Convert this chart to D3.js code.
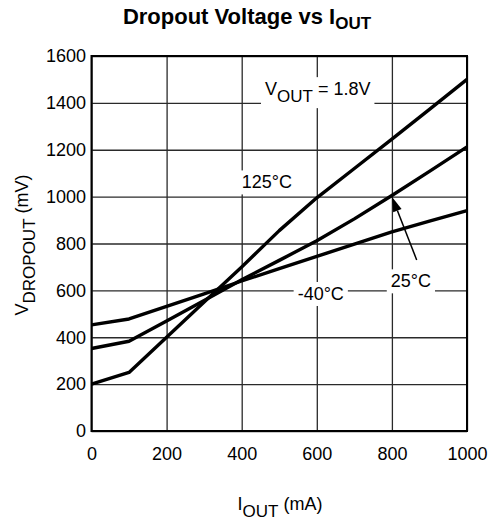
<!DOCTYPE html>
<html>
<head>
<meta charset="utf-8">
<script src="https://cdn.jsdelivr.net/npm/d3@7"></script>
<style>
  html, body { margin: 0; padding: 0; background: #fff; }
  svg { display: block; }
  text { font-family: "Liberation Sans", Arial, Helvetica, sans-serif; fill: #000; }
</style>
</head>
<body>
<svg id="chart" width="492" height="525"></svg>
<script>
// ---- data ----
const currents = [0, 100, 200, 300, 400, 500, 600, 700, 800, 900, 1000]; // mA
const v125 = [200, 250, 400, 550, 700, 855, 995, 1120, 1245, 1372, 1500];  // mV, 125°C
const v25  = [352, 383, 469, 557, 645, 728, 812, 905, 1005, 1108, 1212];   // mV, 25°C
const vm40 = [453, 478, 532, 585, 640, 693, 745, 797, 850, 895, 940];      // mV, -40°C
const xTicks = [0, 200, 400, 600, 800, 1000];
const yTicks = [0, 200, 400, 600, 800, 1000, 1200, 1400, 1600];

const series = [
  { name: "125°C", values: v125 },
  { name: "25°C", values: v25 },
  { name: "-40°C", values: vm40 }
];

// label anchors in data units
const labels = [
  { main: "V", sub: "OUT", rest: " = 1.8V", x: 462, y: 1433 },
  { main: "125°C", x: 400, y: 1035 },
  { main: "-40°C", x: 549, y: 559 },
  { main: "25°C", x: 797, y: 613 }
];
const arrow = { from: [866, 730], to: [800, 1000] };

// ---- layout ----
const svg = d3.select("#chart");
const L = 91.5, R = 467, T = 56, B = 431;
const x = d3.scaleLinear().domain([0, 1000]).range([L, R]);
const y = d3.scaleLinear().domain([0, 1600]).range([B, T]);
const FS = 18;

// grid + x tick labels
const gx = svg.append("g").attr("transform", `translate(0,${B})`)
  .call(d3.axisBottom(x).tickValues(xTicks).tickSize(-(B - T)).tickPadding(16).tickFormat(d3.format("d")));
gx.select(".domain").remove();
gx.selectAll(".tick line").attr("stroke", "#2a2a2a").attr("stroke-width", 1.3);
gx.selectAll(".tick text").attr("font-size", FS).attr("font-family", "Liberation Sans, Arial, sans-serif").attr("fill", "#000");

const gy = svg.append("g").attr("transform", `translate(${L},0)`)
  .call(d3.axisLeft(y).tickValues(yTicks).tickSize(-(R - L)).tickPadding(5.5).tickFormat(d3.format("d")));
gy.select(".domain").remove();
gy.selectAll(".tick line").attr("stroke", "#2a2a2a").attr("stroke-width", 1.3);
gy.selectAll(".tick text").attr("font-size", FS).attr("font-family", "Liberation Sans, Arial, sans-serif").attr("fill", "#000");

// frame
svg.append("rect").attr("x", L).attr("y", T).attr("width", R - L).attr("height", B - T)
  .attr("fill", "none").attr("stroke", "#000").attr("stroke-width", 2);

// curves
const line = d3.line().x((d, i) => x(currents[i])).y(d => y(d));
svg.append("g").selectAll("path").data(series).join("path")
  .attr("d", d => line(d.values))
  .attr("fill", "none").attr("stroke", "#000").attr("stroke-width", 3.4)
  .attr("stroke-linejoin", "round").attr("stroke-linecap", "butt");

// arrow
const ax1 = x(arrow.from[0]), ay1 = y(arrow.from[1]);
const ax2 = x(arrow.to[0]), ay2 = y(arrow.to[1]);
const ang = Math.atan2(ay2 - ay1, ax2 - ax1);
const hl = 15, hw = 4.5;
const bx = ax2 - hl * Math.cos(ang), by = ay2 - hl * Math.sin(ang);
svg.append("line").attr("x1", ax1).attr("y1", ay1).attr("x2", bx).attr("y2", by)
  .attr("stroke", "#000").attr("stroke-width", 1.5);
svg.append("path")
  .attr("d", `M${ax2},${ay2}L${bx + hw * Math.sin(ang)},${by - hw * Math.cos(ang)}L${bx - hw * Math.sin(ang)},${by + hw * Math.cos(ang)}Z`)
  .attr("fill", "#000");

// labels with white background
labels.forEach(lb => {
  const g = svg.append("g");
  const rect = g.append("rect").attr("fill", "#fff");
  const t = g.append("text").attr("x", x(lb.x)).attr("y", y(lb.y)).attr("font-size", FS);
  t.append("tspan").text(lb.main);
  if (lb.sub) {
    t.append("tspan").attr("dy", 7).attr("font-size", 17).text(lb.sub);
    t.append("tspan").attr("dy", -7).text(lb.rest);
  }
  const bb = t.node().getBBox();
  rect.attr("x", bb.x - 4).attr("y", bb.y - 2).attr("width", bb.width + 8).attr("height", bb.height + 4);
});

// title
const title = svg.append("text").attr("x", 247).attr("y", 24).attr("text-anchor", "middle")
  .attr("font-size", 22).attr("font-weight", "bold");
title.append("tspan").text("Dropout Voltage vs I");
title.append("tspan").attr("dy", 5).attr("font-size", 17).text("OUT");

// x axis title
const xt = svg.append("text").attr("x", 280).attr("y", 510).attr("text-anchor", "middle").attr("font-size", FS);
xt.append("tspan").text("I");
xt.append("tspan").attr("dy", 7).attr("font-size", 17).text("OUT");
xt.append("tspan").attr("dy", -7).text(" (mA)");

// y axis title
const yt = svg.append("text").attr("transform", "translate(28,245) rotate(-90)").attr("text-anchor", "middle").attr("font-size", FS);
yt.append("tspan").text("V");
yt.append("tspan").attr("dy", 7).attr("font-size", 17).text("DROPOUT");
yt.append("tspan").attr("dy", -7).text(" (mV)");
</script>
</body>
</html>
